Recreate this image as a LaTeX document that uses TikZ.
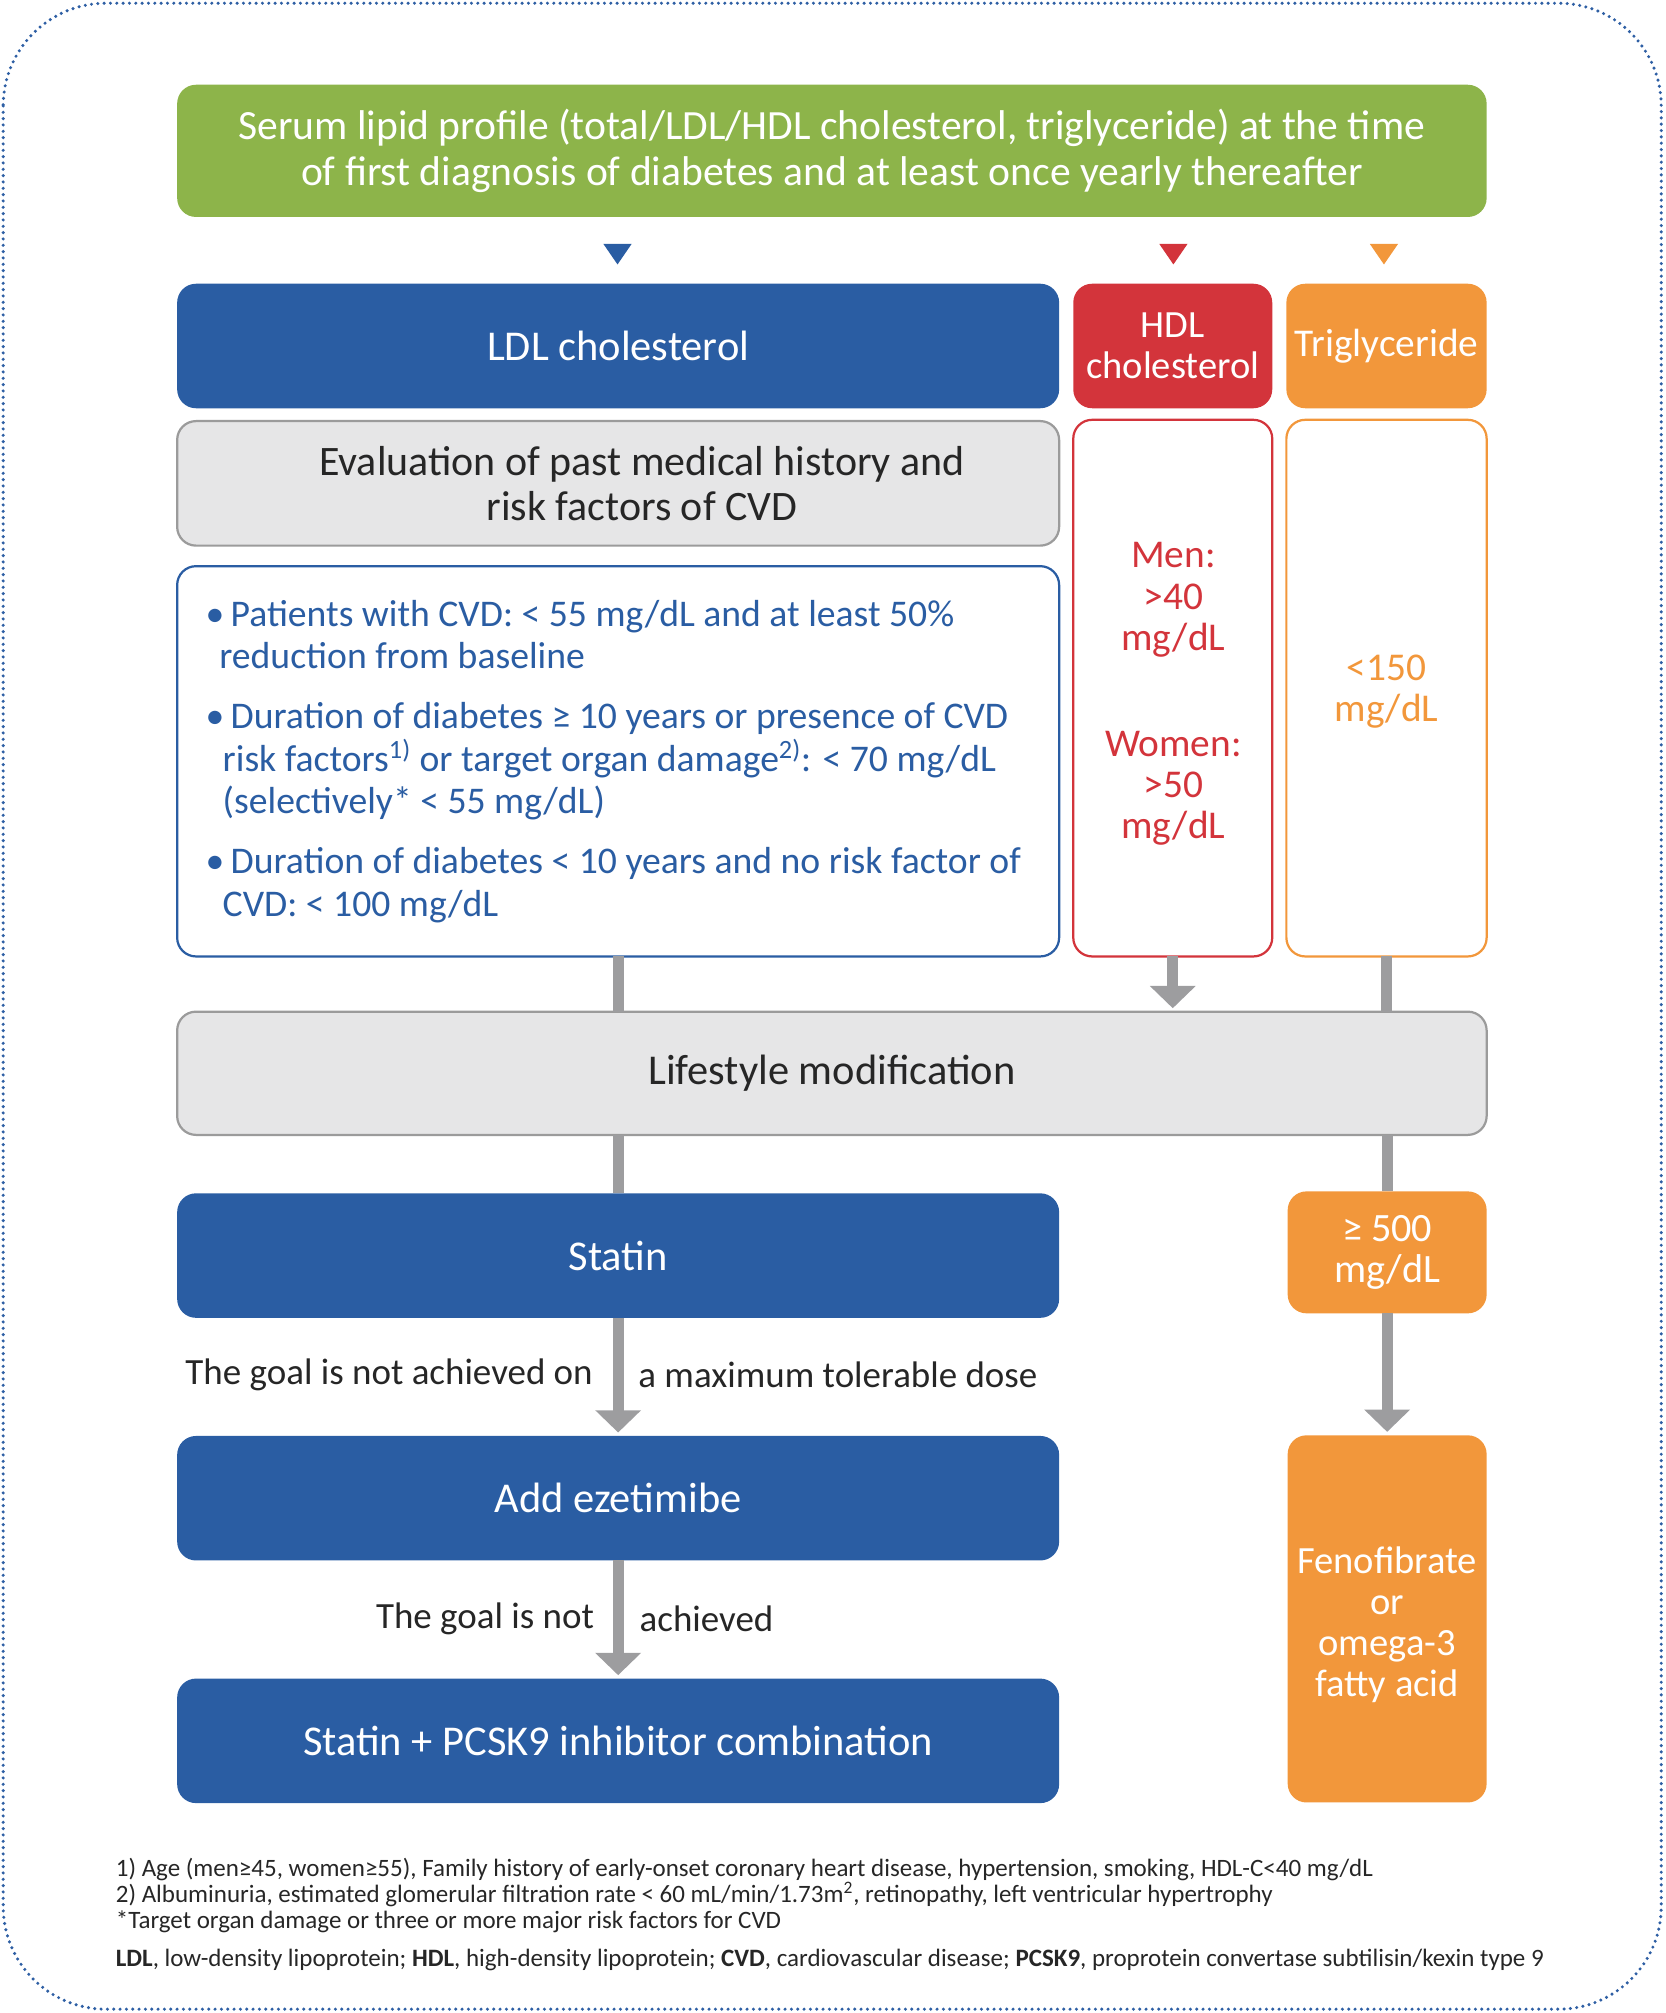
\documentclass[tikz,border=0pt]{standalone}
\usepackage{fontspec}
\setmainfont{Carlito}
\usetikzlibrary{arrows.meta}
\definecolor{ldlblue}{HTML}{2A5DA3}
\definecolor{lgreen}{HTML}{8DB44A}
\definecolor{hred}{HTML}{D3343B}
\definecolor{torange}{HTML}{F2973B}
\definecolor{boxgray}{HTML}{E6E6E7}
\definecolor{edgegray}{HTML}{9B9B9B}
\definecolor{arrgray}{HTML}{9D9D9F}
\definecolor{txtdark}{HTML}{262626}
\definecolor{dotblue}{HTML}{2E5FA4}
\begin{document}
\begin{tikzpicture}[x=0.75pt,y=-0.75pt,
  box/.style={rounded corners=11pt, inner sep=0pt, outer sep=0pt, align=center},
  solidbox/.style={box, text=white, font=\fontsize{22.5}{24}\selectfont},
  bluebox/.style={solidbox, fill=ldlblue, minimum width=515.25pt, minimum height=72.75pt,
    font=\fontsize{24.8}{26}\selectfont},
  graybox/.style={box, fill=boxgray, draw=edgegray, line width=1.3pt, text=txtdark},
  linebox/.style={box, fill=white, line width=1.3pt, minimum width=116.25pt, minimum height=313.5pt},
  goaltext/.style={align=center, inner sep=0pt, font=\fontsize{23}{24}\selectfont},
  conn/.style={draw=arrgray, line width=6.5pt},
  arr/.style={conn, -{Triangle[width=26pt,length=13pt]}, shorten >=2pt},
  lbl/.style={text=txtdark, font=\fontsize{21.6}{24}\selectfont, inner sep=0pt},
  foot/.style={text=txtdark, font=\fontsize{14.6}{16}\selectfont, anchor=base west, inner sep=0pt}
]
\useasboundingbox (0,0) rectangle (1297,1568);
% outer dotted frame
\draw[dotblue, line width=2pt, dash pattern=on 0pt off 3.7pt, line cap=round, rounded corners=60pt]
  (2.5,2.5) rectangle (1294,1565);

% top box
\node[solidbox, fill=lgreen, minimum width=765pt, minimum height=77.25pt,
  font=\fontsize{24.3}{27}\selectfont] (serum) at (648,117.5)
  {Serum lipid profile (total/LDL/HDL cholesterol, triglyceride) at the time\\of first diagnosis of diabetes and at least once yearly thereafter};

% markers
\coordinate (mk1) at (481,190);
\coordinate (mk2) at (914,190);
\coordinate (mk3) at (1078,190);
\fill[ldlblue] (mk1) ++(-11,0) -- ++(22,0) -- ++(-11,16) -- cycle;
\fill[hred] (mk2) ++(-11,0) -- ++(22,0) -- ++(-11,16) -- cycle;
\fill[torange] (mk3) ++(-11,0) -- ++(22,0) -- ++(-11,16) -- cycle;

% headers
\node[bluebox] (ldl) at (481.5,269.5) {LDL cholesterol};
\node[solidbox, fill=hred, minimum width=116.25pt, minimum height=72.75pt] (hdl) at (913.5,269.5) {HDL\\cholesterol};
\node[solidbox, fill=torange, minimum width=117pt, minimum height=72.75pt, font=\fontsize{23}{24}\selectfont] (tg) at (1080,269.5) {Triglyceride};

% evaluation
\node[graybox, minimum width=515.25pt, minimum height=72.75pt] (eval) at (481.5,376.5) {};
\node[text=txtdark, font=\fontsize{24.5}{26}\selectfont, align=center, inner sep=0pt] (evaltext) at (500,376.5)
  {Evaluation of past medical history and\\risk factors of CVD};

% LDL goals
\node[box, draw=ldlblue, fill=white, line width=1.3pt, minimum width=515.25pt, minimum height=228pt,
  text width=482pt, inner xsep=16.5pt, align=flush left, text=ldlblue,
  font=\fontsize{22}{24.75}\selectfont] (goals) at (481.5,593)
  {•\,Patients with CVD: < 55 mg/dL and at least 50\%\\
   \hspace*{8pt}reduction from baseline\\[10.5pt]
   •\,Duration of diabetes ≥ 10 years or presence of CVD\\
   \hspace*{10pt}risk factors\textsuperscript{1)} or target organ damage\textsuperscript{2)}: < 70 mg/dL\\
   \hspace*{10pt}(selectively* < 55 mg/dL)\\[10.5pt]
   •\,Duration of diabetes < 10 years and no risk factor of\\
   \hspace*{10pt}CVD: < 100 mg/dL};

% HDL / TG targets
\node[linebox, draw=hred] (hdlgoal) at (913.5,536) {};
\node[goaltext, text=hred] (hdltext) at (914,540.5)
  {Men:\\>40\\mg/dL\\[38pt]Women:\\>50\\mg/dL};
\node[linebox, draw=torange, minimum width=117pt] (tggoal) at (1080,536) {};
\node[goaltext, text=torange] (tgtext) at (1080,539)
  {<150\\mg/dL};

% lifestyle
\node[graybox, minimum width=765pt, minimum height=72pt, font=\fontsize{24.8}{26}\selectfont] (life) at (648,836)
  {Lifestyle modification};

% treatment
\node[bluebox] (statin) at (481.5,978) {Statin};
\node[bluebox] (eze) at (481.5,1167) {Add ezetimibe};
\node[bluebox] (pcsk) at (481.5,1356) {Statin + PCSK9 inhibitor combination};
\node[solidbox, fill=torange, minimum width=116.25pt, minimum height=71.25pt,
  font=\fontsize{23.5}{24}\selectfont] (tg500) at (1080.5,975.5) {≥ 500\\mg/dL};
\node[solidbox, fill=torange, minimum width=116.25pt, minimum height=214.5pt] (feno) at (1080.5,1261) {};
\node[goaltext, text=white, font=\fontsize{22.5}{24}\selectfont] (fenotext) at (1080.5,1265.5)
  {Fenofibrate\\or\\omega-3\\fatty acid};

% connectors
\draw[conn] (goals.south) -- (life.north -| goals.south);
\draw[arr] (hdlgoal.south) -- (life.north -| hdlgoal.south);
\draw[conn] (tggoal.south) -- (life.north -| tggoal.south);
\draw[conn] (life.south -| statin.north) -- (statin.north);
\draw[conn] (life.south -| tg500.north) -- (tg500.north);
\draw[arr] (statin.south) -- (eze.north);
\draw[arr] (eze.south) -- (pcsk.north);
\draw[arr] (tg500.south) -- (feno.north);

% arrow labels
\node[lbl, anchor=east] (l1a) at (462,1071) {The goal is not achieved on};
\node[lbl, anchor=west] (l1b) at (497,1071) {a maximum tolerable dose};
\node[lbl, anchor=east] (l2a) at (463,1261) {The goal is not};
\node[lbl, anchor=west] (l2b) at (498,1261) {achieved};

% footnotes
\node[foot] (f1) at (90,1462) {1) Age (men≥45, women≥55), Family history of early-onset coronary heart disease, hypertension, smoking, HDL-C<40 mg/dL};
\node[foot] (f2) at (90,1482) {2) Albuminuria, estimated glomerular filtration rate < 60 mL/min/1.73m\textsuperscript{2}, retinopathy, left ventricular hypertrophy};
\node[foot] (f3) at (90,1502) {*Target organ damage or three or more major risk factors for CVD};
\node[foot] (f4) at (90,1532) {\textbf{LDL}, low-density lipoprotein; \textbf{HDL}, high-density lipoprotein; \textbf{CVD}, cardiovascular disease; \textbf{PCSK9}, proprotein convertase subtilisin/kexin type 9};
\end{tikzpicture}
\end{document}
